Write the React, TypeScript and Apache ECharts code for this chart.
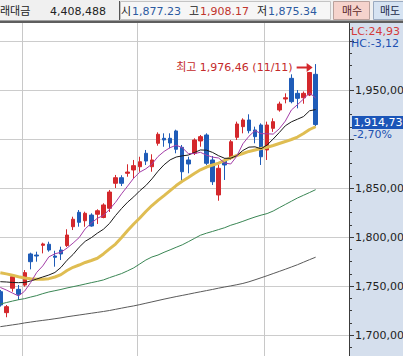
import { useEffect, useRef } from 'react';
import * as echarts from 'echarts';

// ---- data (KOSPI daily) ----
const dates = ['08/26','08/27','08/30','08/31','09/01','09/02','09/03','09/06','09/07','09/08','09/09','09/10','09/13','09/14','09/15','09/16','09/17','09/20','09/24','09/27','09/28','09/29','09/30','10/01','10/04','10/05','10/06','10/07','10/08','10/11','10/12','10/13','10/14','10/15','10/18','10/19','10/20','10/21','10/22','10/25','10/26','10/27','10/28','10/29','11/01','11/02','11/03','11/04','11/05','11/08','11/09','11/10','11/11'];
const emptySlots = ['11/12','11/15','11/16','11/17','11/18'];
const monthStarts = ['09/01','10/01','11/01'];

const opens = [1744.2,1722.8,1747.7,1746.6,1751.0,1782.7,1781.6,1791.5,1792.6,1780.6,1786.7,1791.3,1810.5,1825.2,1816.6,1822.4,1823.2,1819.9,1829.3,1854.8,1860.5,1865.0,1868.4,1871.7,1885.4,1871.7,1895.6,1900.7,1900.7,1908.2,1891.5,1878.6,1885.4,1898.0,1904.1,1878.6,1842.9,1877.9,1880.3,1901.7,1912.6,1919.4,1909.2,1914.3,1888.8,1910.9,1929.6,1940.8,1961.9,1946.6,1942.1,1944.9,1966.0];
const closes = [1730.6,1728.9,1759.5,1741.5,1763.6,1774.8,1780.6,1792.9,1786.7,1779.3,1782.7,1802.0,1818.1,1815.0,1824.2,1811.2,1826.8,1832.7,1845.9,1860.5,1854.8,1866.3,1872.8,1876.8,1877.5,1878.6,1904.8,1899.0,1895.9,1889.5,1866.6,1874.5,1899.0,1902.4,1875.2,1856.4,1870.1,1873.5,1897.2,1915.3,1919.4,1908.5,1902.4,1881.9,1914.3,1917.7,1935.7,1942.1,1938.1,1941.5,1946.6,1967.85,1914.73];
const lows = [1729.0,1718.1,1744.2,1735.7,1749.3,1767.0,1774.8,1783.3,1785.0,1769.7,1776.5,1789.8,1807.1,1810.5,1810.5,1810.5,1813.3,1819.1,1825.5,1850.0,1852.0,1861.5,1859.9,1866.6,1873.5,1866.6,1893.2,1892.1,1890.5,1885.4,1856.4,1865.0,1883.7,1892.1,1873.5,1853.1,1837.0,1858.2,1878.6,1899.0,1905.8,1905.8,1895.6,1873.5,1878.6,1907.3,1927.9,1936.4,1936.4,1931.3,1936.0,1943.8,1913.0];
const highs = [1746.0,1730.6,1761.2,1751.0,1766.3,1784.0,1785.0,1794.2,1795.2,1786.0,1790.1,1807.9,1820.7,1827.5,1825.8,1824.2,1828.3,1834.4,1848.0,1863.3,1863.0,1874.2,1878.6,1881.9,1888.8,1884.4,1906.8,1905.8,1905.8,1909.5,1893.9,1881.9,1900.7,1904.1,1905.8,1882.6,1873.5,1880.3,1899.0,1917.7,1921.1,1925.2,1912.6,1916.0,1917.7,1921.1,1938.1,1946.6,1966.0,1950.0,1948.5,1968.4,1976.46];

const ma5 = [1748.5,1745.9,1742.8,1739.8,1744.7,1753.5,1763.9,1770.5,1779.7,1782.9,1784.4,1788.7,1793.8,1799.4,1808.4,1814.1,1819.1,1822.0,1828.2,1835.4,1844.1,1852.0,1860.1,1866.2,1869.6,1874.4,1882.1,1887.3,1891.2,1893.6,1891.2,1885.1,1885.1,1886.4,1883.5,1881.5,1880.6,1875.5,1874.5,1882.5,1895.1,1902.8,1908.6,1905.5,1905.3,1905.0,1910.4,1918.3,1929.6,1935.0,1940.8,1947.2,1941.8];
const ma10 = [1754.4,1754.1,1753.6,1753.4,1753.6,1755.1,1757.1,1759.2,1761.2,1763.8,1769.0,1776.3,1782.2,1789.6,1795.6,1799.3,1803.9,1807.9,1813.8,1821.9,1829.1,1835.6,1841.0,1847.2,1852.5,1859.3,1867.1,1873.7,1878.7,1881.6,1882.8,1883.6,1886.2,1888.8,1888.6,1886.3,1882.9,1880.3,1880.4,1883.0,1888.3,1891.7,1892.0,1890.0,1893.9,1900.0,1906.6,1913.5,1917.5,1920.2,1922.9,1928.8,1930.0];
const ma20 = [1763.6,1762.4,1761.0,1759.5,1758.2,1757.5,1757.0,1756.8,1757.5,1759.2,1761.6,1765.8,1769.1,1771.4,1774.0,1776.0,1778.3,1782.7,1787.8,1792.8,1799.5,1806.6,1813.3,1819.4,1826.0,1832.1,1837.3,1842.3,1847.4,1852.5,1856.9,1860.7,1864.8,1868.6,1871.4,1873.5,1875.3,1878.1,1880.8,1883.2,1885.2,1887.3,1888.8,1890.3,1891.6,1893.4,1895.4,1897.4,1899.5,1902.0,1905.6,1909.7,1912.5];
const ma60 = [1731.6,1733.1,1734.6,1736.0,1737.1,1738.7,1740.2,1742.2,1743.9,1745.2,1746.5,1748.0,1749.3,1750.6,1752.0,1753.4,1754.7,1756.2,1758.5,1760.6,1762.7,1765.5,1768.5,1772.5,1776.5,1779.6,1781.6,1784.4,1786.9,1789.5,1792.0,1795.2,1798.5,1801.8,1803.9,1805.7,1807.6,1809.5,1812.0,1813.9,1816.0,1818.3,1820.4,1822.3,1823.9,1826.5,1829.9,1833.2,1836.5,1839.8,1842.6,1845.4,1848.3];
const ma120 = [1708.5,1709.4,1710.3,1711.2,1712.3,1713.2,1714.1,1714.9,1715.7,1716.6,1717.5,1718.6,1719.5,1720.4,1721.3,1722.2,1723.1,1724.0,1725.0,1726.2,1727.4,1728.6,1729.7,1731.0,1732.4,1733.8,1735.2,1736.6,1737.9,1739.2,1740.4,1741.6,1742.9,1744.1,1745.3,1746.5,1747.8,1749.0,1750.1,1751.3,1752.6,1754.3,1756.3,1758.4,1760.5,1762.7,1764.9,1767.1,1769.4,1771.7,1774.3,1776.9,1779.4];

const hiddenAxisValues = [1650, 1900, 2000, 2050];
const headerVolume = { label: '래대금', value: '4,408,488' };
const headerPrices = [
  { label: '시', value: '1,877.23', kind: 'down' },
  { label: '고', value: '1,908.17', kind: 'up' },
  { label: '저', value: '1,875.34', kind: 'down' },
];
const lcText = 'LC:24,93';
const hcText = 'HC:-3,12';
const changePct = '-2,70%';
const highDate = '11/11';

const F = "'DejaVu Sans', 'Noto Sans CJK KR', sans-serif";
const RED = '#d4282c';
const BLUE = '#1f5cb8';
const Y_MIN = 1650;
const Y_MAX = 2050;

const fmtK = (v: number) => {
  const [i, d] = v.toFixed(2).split('.');
  return i.replace(/\B(?=(\d{3})+(?!\d))/g, ',') + ',' + d;
};

const txt = (id: string, x: number, y: number, text: string, fill: string, align = 'left', size = 11) => ({
  id, type: 'text', x, y, z: 110,
  style: { text, fill, font: `${size}px ${F}`, textAlign: align, textVerticalAlign: 'middle', lineHeight: size },
});

function headerElements() {
  const els: any[] = [
    { id: 'panel', type: 'rect', z: -5, shape: { x: 349, y: 23, width: 60, height: 340 }, style: { fill: '#d5dfed' } },
    { id: 'hbg', type: 'rect', z: 100, shape: { x: 0, y: 0, width: 403, height: 21 }, style: { fill: '#f0f0f0' } },
    { id: 'hb1', type: 'rect', z: 101, shape: { x: 0, y: 20, width: 403, height: 1 }, style: { fill: '#a0a0a0' } },
    { id: 'hb2', type: 'rect', z: 101, shape: { x: 0, y: 21, width: 403, height: 2 }, style: { fill: '#5e5e5e' } },
    { id: 'sep1', type: 'rect', z: 101, shape: { x: 119, y: 1, width: 1, height: 19 }, style: { fill: '#555' } },
    { id: 'box', type: 'rect', z: 101, shape: { x: 120.5, y: 1.5, width: 210, height: 18 }, style: { fill: '#f6f6f6', stroke: '#c4c4c4', lineWidth: 1 } },
    { id: 'buy', type: 'rect', z: 101, shape: { x: 333.5, y: 1.5, width: 36, height: 18 }, style: { fill: '#f5d3cc', stroke: '#b9a19c', lineWidth: 1 } },
    { id: 'sell', type: 'rect', z: 101, shape: { x: 373.5, y: 1.5, width: 40, height: 18 }, style: { fill: '#d6e3f2', stroke: '#9aaac0', lineWidth: 1 } },
    txt('vol-l', 0, 11, headerVolume.label, '#222', 'left', 11),
    txt('vol-v', 50, 11, headerVolume.value, '#222'),
    txt('buy-t', 352, 11, '매수', '#5a2626', 'center', 11),
    txt('sell-t', 380, 11, '매도', '#1d2b4a', 'left', 11),
    txt('lc', 351, 31.5, lcText, '#d43a3a'),
    txt('hc', 351, 43, hcText, '#2050b0'),
  ];
  const xs = [121, 189, 257];
  headerPrices.forEach((p, k) => {
    els.push(txt('hp-l' + k, xs[k], 11, p.label, '#222', 'left', 11));
    els.push(txt('hp-v' + k, xs[k] + 11, 11, p.value, p.kind === 'up' ? '#c0342c' : '#2c5aa0'));
  });
  return els;
}

export default function App() {
  const ref = useRef<HTMLDivElement>(null);
  useEffect(() => {
    document.body.style.margin = '0';
    const chart = echarts.init(ref.current!, null, { renderer: 'svg' });
    const categories = [...dates, ...emptySlots];
    const last = closes.length - 1;
    const candle = opens.map((o, i) => [o, closes[i], lows[i], highs[i]]);
    const line = (name: string, data: number[], color: string, width: number) => ({
      name, type: 'line', data, symbol: 'none', silent: true,
      lineStyle: { color, width }, z: 3,
    });
    const boundaries = monthStarts.map((d) => categories.indexOf(d) - 0.5);
    const option: any = {
      animation: false,
      backgroundColor: '#ffffff',
      grid: { left: -2.7, right: 54, top: -8, bottom: -28, containLabel: false, outerBoundsMode: 'none' },
      xAxis: [
        {
          type: 'category', data: categories, boundaryGap: true,
          axisLine: { show: false }, axisTick: { show: false }, axisLabel: { show: false },
          splitLine: { show: false },
        },
        { type: 'value', min: -0.5, max: categories.length - 0.5, show: false },
      ],
      yAxis: {
        type: 'value', position: 'right', min: Y_MIN, max: Y_MAX, interval: 50,
        axisLine: { show: true, onZero: false, lineStyle: { color: '#3c3c3c', width: 1 } },
        axisTick: { show: true, length: 5, lineStyle: { color: '#3c3c3c' } },
        minorTick: { show: true, splitNumber: 4, length: 3, lineStyle: { color: '#3c3c3c' } },
        splitLine: { show: true, lineStyle: { color: '#cccccc', width: 1 } },
        axisLabel: {
          color: '#222', fontSize: 11, fontFamily: F, margin: 6,
          formatter: (v: number) => (hiddenAxisValues.includes(v) ? '' : fmtK(v)),
        },
      },
      series: [
        {
          type: 'candlestick', data: candle, barWidth: 4, z: 2,
          itemStyle: { color: RED, color0: BLUE, borderColor: RED, borderColor0: BLUE, borderWidth: 1 },
          markPoint: {
            symbol: 'path://M0,3.5L10,3.5L10,0L16,4.5L10,9L10,5.5L0,5.5Z',
            symbolSize: [16, 9],
            symbolOffset: [-11, 3.5],
            itemStyle: { color: RED },
            label: {
              show: true, position: 'left', distance: 4, color: '#c42a2a',
              fontSize: 11, fontFamily: F,
              formatter: () => `최고 ${fmtK(highs[last])} (${highDate})`,
            },
            data: [{ coord: [dates[last], highs[last]] }],
          },
        },
        line('MA120', ma120, '#5a5a5a', 1),
        line('MA60', ma60, '#3a8654', 1),
        line('MA20', ma20, '#dfbd52', 3),
        line('MA10', ma10, '#1a1a1a', 1),
        line('MA5', ma5, '#a43ea8', 1),
      ],
      graphic: { elements: headerElements() },
    };
    chart.setOption(option);
    const py = chart.convertToPixel({ yAxisIndex: 0 }, closes[last]) as number;
    const monthLines: any[] = [];
    boundaries.forEach((b, k) => {
      let px = chart.convertToPixel({ xAxisIndex: 1 }, b) as any;
      if (Array.isArray(px)) px = px[0];
      if (typeof px === 'number' && isFinite(px)) {
        const x = Math.round(px) + 0.5;
        monthLines.push({
          id: 'mline' + k, type: 'line', z: 2.5, silent: true,
          shape: { x1: x, y1: 23, x2: x, y2: 356 },
          style: { stroke: '#c8c8c8', lineWidth: 1 },
        });
      }
    });
    chart.setOption({
      graphic: {
        elements: [
          ...monthLines,
          { id: 'pbox', type: 'rect', z: 110, shape: { x: 352, y: py - 8.5, width: 52, height: 13 }, style: { fill: '#1b55b8' } },
          txt('ptext', 353.5, py - 2, fmtK(closes[last]), '#ffffff'),
          txt('pct', 353, py + 9.5, changePct, '#2050b0'),
        ],
      },
    });
    return () => chart.dispose();
  }, []);
  return <div ref={ref} style={{ position: 'absolute', left: 0, top: 0, width: 403, height: 356 }} />;
}
